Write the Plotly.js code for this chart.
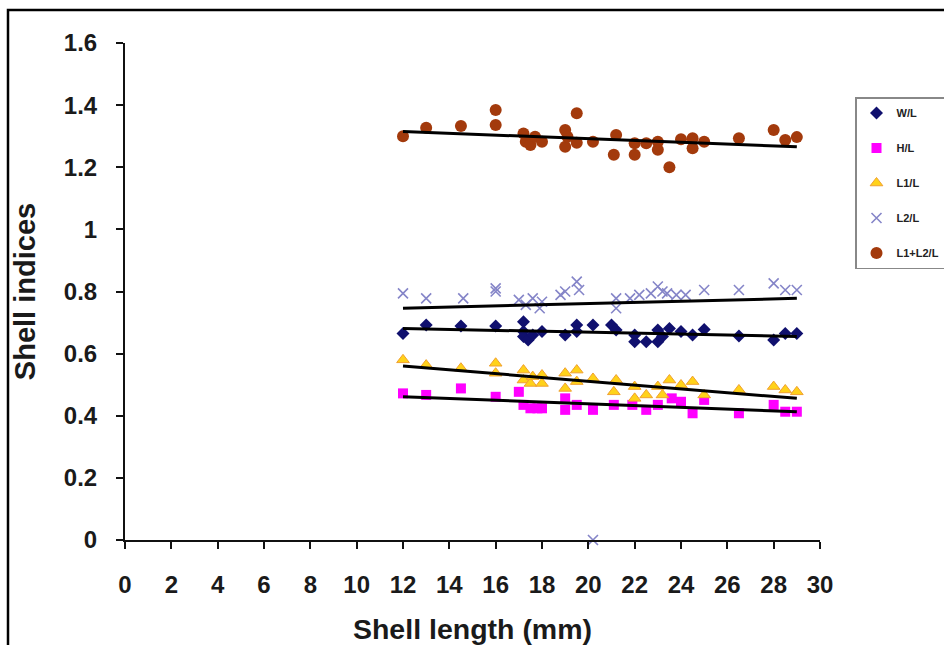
<!DOCTYPE html>
<html>
<head>
<meta charset="utf-8">
<script src="https://cdn.plot.ly/plotly-3.0.1.min.js"></script>
<style>html,body{margin:0;padding:0;background:#fff;}#chart{width:944px;height:645px;}</style>
</head>
<body>
<div id="chart"></div>
<script>
// Shell length (mm) and shell index values
const WL_x = [12,13,14.5,16,17.2,17.2,17.2,17.4,17.6,18,19,19.5,19.5,20.2,21,21.2,22,22,22.5,23,23,23.2,23.5,24,24.5,25,26.5,28,28.5,29];
const WL_y = [0.665,0.692,0.689,0.689,0.703,0.671,0.655,0.644,0.66,0.671,0.66,0.692,0.671,0.692,0.692,0.676,0.66,0.638,0.638,0.676,0.638,0.655,0.681,0.671,0.66,0.678,0.657,0.644,0.665,0.665];

const HL_x = [12,13,14.5,16,17,17.2,17.5,17.8,18,19,19,19.5,20.2,21.1,21.9,22.5,23,23.6,24,24.5,25,26.5,28,28.5,29];
const HL_y = [0.472,0.467,0.488,0.461,0.477,0.435,0.424,0.424,0.424,0.456,0.419,0.435,0.419,0.435,0.435,0.419,0.435,0.456,0.445,0.408,0.451,0.408,0.435,0.413,0.413];

const L1_x = [12,13,14.5,16,16,17.2,17.2,17.5,17.6,18,18,19,19,19.5,19.5,20.2,21.2,21.1,22,22,22.5,23,23.2,23.5,24,24.5,25,26.5,28,28.5,29];
const L1_y = [0.58,0.563,0.553,0.569,0.537,0.547,0.515,0.504,0.526,0.531,0.504,0.537,0.488,0.547,0.51,0.52,0.515,0.477,0.494,0.456,0.467,0.494,0.467,0.515,0.499,0.51,0.467,0.483,0.494,0.483,0.477];

const L2_x = [12,13,14.6,16,16,17,17.3,17.6,18,17.9,18.8,19,19.5,19.6,21.2,21.2,21.8,22.2,22.7,23,23.2,23.4,23.8,24.2,25,26.5,28,28.5,29,20.2];
const L2_y = [0.794,0.778,0.778,0.81,0.80,0.773,0.757,0.778,0.767,0.746,0.789,0.80,0.832,0.805,0.778,0.746,0.778,0.789,0.794,0.816,0.80,0.794,0.789,0.789,0.805,0.805,0.826,0.805,0.805,0];

const LL_x = [12,13,14.5,16,16,17.2,17.3,17.5,17.7,18,19,19,19.1,19.5,19.5,20.2,21.2,21.1,22,22,22.5,23,23,23.5,24,24.5,24.5,25,26.5,28,28.5,29];
const LL_y = [1.30,1.327,1.333,1.384,1.336,1.309,1.282,1.272,1.298,1.282,1.32,1.266,1.298,1.374,1.279,1.282,1.304,1.24,1.277,1.24,1.277,1.282,1.256,1.20,1.29,1.293,1.261,1.282,1.293,1.32,1.288,1.297];

// Linear trend line end points
const trendX = [12, 29];
const WL_fit = [0.681, 0.655];
const HL_fit = [0.461, 0.413];
const L1_fit = [0.560, 0.456];
const L2_fit = [0.746, 0.778];
const LL_fit = [1.315, 1.266];

const seriesNames = ['W/L', 'H/L', 'L1/L', 'L2/L', 'L1+L2/L'];

const FONT = '"Liberation Sans", Arial, sans-serif';

const traces = [
  {x: WL_x, y: WL_y, name: seriesNames[0], mode: 'markers', type: 'scatter', legendgroup: 'a',
   marker: {symbol: 'diamond', size: 10, color: '#10106e', line: {width: 0}}},
  {x: HL_x, y: HL_y, name: seriesNames[1], mode: 'markers', type: 'scatter', legendgroup: 'b',
   marker: {symbol: 'square', size: 10, color: '#ff00ff', line: {width: 0}}},
  {x: L1_x, y: L1_y, name: seriesNames[2], mode: 'markers', type: 'scatter', legendgroup: 'c',
   marker: {symbol: 'triangle-up', size: 11, color: '#ffd21a', line: {width: 1, color: '#f0a030'}}},
  {x: L2_x, y: L2_y, name: seriesNames[3], mode: 'markers', type: 'scatter', legendgroup: 'd', cliponaxis: false,
   marker: {symbol: 'x-thin-open', size: 10, color: '#8585c8', line: {width: 1.6, color: '#8585c8'}}},
  {x: LL_x, y: LL_y, name: seriesNames[4], mode: 'markers', type: 'scatter', legendgroup: 'e',
   marker: {symbol: 'circle', size: 12, color: '#a33a0c', line: {width: 0}}}
];
[WL_fit, HL_fit, L1_fit, L2_fit, LL_fit].forEach(f => {
  traces.push({x: trendX, y: f, mode: 'lines', type: 'scatter', showlegend: false, hoverinfo: 'skip',
    line: {color: '#000', width: 3}});
});

const L = 125, R = 820, T = 43, B = 540, W = 944, H = 645;
const pw = R - L, ph = B - T;
const px = v => (v - L) / pw, py = v => (B - v) / ph;

const layout = {
  width: W, height: H,
  margin: {l: L, r: W - R, t: T, b: H - B, pad: 0, autoexpand: false},
  paper_bgcolor: '#fff', plot_bgcolor: '#fff',
  font: {family: FONT, color: '#1a1a1a'},
  showlegend: true,
  xaxis: {
    range: [0, 30], dtick: 2, tick0: 0, showgrid: false, zeroline: false,
    showline: true, linecolor: '#111', linewidth: 2,
    ticks: 'outside', ticklen: 7, tickwidth: 2, tickcolor: '#111',
    tickfont: {family: FONT, size: 24, color: '#1a1a1a', weight: 'bold'},
    ticklabelstandoff: 15,
    title: {text: 'Shell length (mm)', font: {family: FONT, size: 28.5, color: '#1a1a1a', weight: 'bold'}, standoff: 24},
    automargin: false, fixedrange: true
  },
  yaxis: {
    range: [0, 1.6], dtick: 0.2, tick0: 0, showgrid: false, zeroline: false,
    showline: true, linecolor: '#111', linewidth: 2,
    ticks: 'outside', ticklen: 7, tickwidth: 2, tickcolor: '#111',
    tickfont: {family: FONT, size: 24, color: '#1a1a1a', weight: 'bold'},
    ticklabelstandoff: 14,
    title: {text: 'Shell indices', font: {family: FONT, size: 29, color: '#1a1a1a', weight: 'bold'}, standoff: 20},
    automargin: false, fixedrange: true
  },
  legend: {
    xref: 'container', yref: 'container',
    x: 855 / W, y: 1 - 97 / H, xanchor: 'left', yanchor: 'top',
    bgcolor: '#fff', bordercolor: '#888', borderwidth: 1.5,
    font: {family: FONT, size: 11, color: '#222', weight: 'bold'},
    traceorder: 'grouped', tracegroupgap: 16, itemwidth: 30
  },
  shapes: [
    {type: 'rect', xref: 'paper', yref: 'paper', x0: px(8), x1: px(1000), y0: py(700), y1: py(10),
     line: {color: '#000', width: 2.5}, fillcolor: 'rgba(0,0,0,0)', layer: 'below'}
  ]
};

Plotly.newPlot('chart', traces, layout, {displayModeBar: false, staticPlot: true});
</script>
</body>
</html>
